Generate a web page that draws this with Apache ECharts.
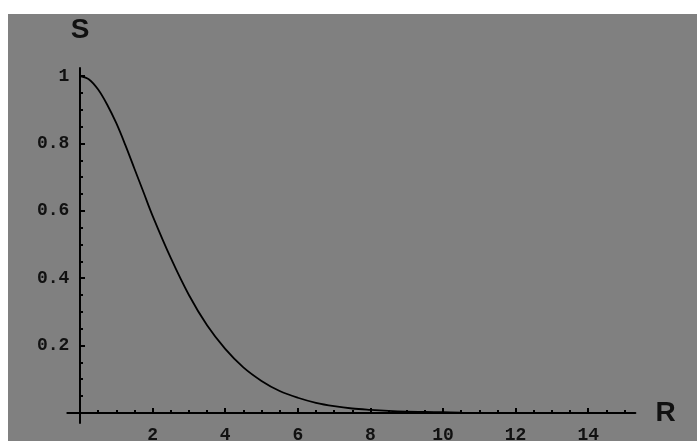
<!DOCTYPE html>
<html>
<head>
<meta charset="utf-8">
<script src="https://cdn.jsdelivr.net/npm/echarts@6/dist/echarts.min.js"></script>
<style>
html,body{margin:0;padding:0;background:#fff;}
#c{width:697px;height:441px;}
</style>
</head>
<body>
<div id="c"></div>
<script>
// Data
const R = [0, 0.25, 0.5, 0.75, 1, 1.25, 1.5, 1.75, 2, 2.5, 3, 3.5, 4, 4.5, 5, 5.5, 6, 6.5, 7, 7.5, 8, 8.5, 9, 9.5, 10, 10.5];
const S = [1, 0.99, 0.96, 0.915, 0.86, 0.795, 0.725, 0.655, 0.585, 0.46, 0.35, 0.26, 0.19, 0.135, 0.095, 0.065, 0.045, 0.03, 0.02, 0.013, 0.009, 0.006, 0.004, 0.003, 0.002, 0.001];

// Tick labels and tick positions
const xTickLabels = [2, 4, 6, 8, 10, 12, 14];
const xMinorTicks = [0.5, 1, 1.5, 2.5, 3, 3.5, 4.5, 5, 5.5, 6.5, 7, 7.5, 8.5, 9, 9.5, 10.5, 11, 11.5, 12.5, 13, 13.5, 14.5, 15];
const yTickLabels = [0.2, 0.4, 0.6, 0.8, 1];
const yMinorTicks = [0.05, 0.1, 0.15, 0.25, 0.3, 0.35, 0.45, 0.5, 0.55, 0.65, 0.7, 0.75, 0.85, 0.9, 0.95];

const chart = echarts.init(document.getElementById('c'), null, {renderer: 'canvas'});

const labelFont = {color: '#111', fontFamily: 'Liberation Mono', fontSize: 18, fontWeight: 'bold'};
const XMIN = -0.35, XMAX = 15.3, YMIN = -0.03, YMAX = 1.024;

chart.setOption({
  animation: false,
  backgroundColor: '#ffffff',
  graphic: [{
    type: 'rect', z: -100, silent: true,
    shape: {x: 8, y: 14, width: 689, height: 427},
    style: {fill: '#808080'}
  }],
  grid: {left: 67.3, right: 61.6, top: 68, bottom: 18, outerBoundsMode: 'none', containLabel: false},
  xAxis: [{
    type: 'value', min: XMIN, max: XMAX, position: 'bottom',
    name: 'R', nameLocation: 'end', nameGap: 20,
    nameTextStyle: {color: '#111', fontFamily: 'Liberation Sans', fontWeight: 'bold', fontSize: 28, padding: [0, 0, 6, 0]},
    axisLine: {show: true, onZero: true, onZeroAxisIndex: 0, lineStyle: {color: '#000', width: 2}},
    axisTick: {show: true, inside: true, length: 5, customValues: xTickLabels, lineStyle: {color: '#000', width: 2}},
    axisLabel: Object.assign({show: true, margin: 3, customValues: xTickLabels}, labelFont),
    splitLine: {show: false}
  }, {
    type: 'value', min: XMIN, max: XMAX, position: 'top',
    axisLine: {show: false, onZero: true, onZeroAxisIndex: 0},
    axisTick: {show: true, inside: false, length: 3, customValues: xMinorTicks, lineStyle: {color: '#000', width: 2}},
    axisLabel: {show: false},
    splitLine: {show: false}
  }],
  yAxis: [{
    type: 'value', min: YMIN, max: YMAX, position: 'left',
    name: 'S', nameLocation: 'end', nameGap: 24,
    nameTextStyle: {color: '#111', fontFamily: 'Liberation Sans', fontWeight: 'bold', fontSize: 28, align: 'center'},
    axisLine: {show: true, onZero: true, onZeroAxisIndex: 0, lineStyle: {color: '#000', width: 2}},
    axisTick: {show: true, inside: true, length: 5, customValues: yTickLabels, lineStyle: {color: '#000', width: 2}},
    axisLabel: Object.assign({show: true, margin: -2, customValues: yTickLabels,
      formatter: v => (v === 1 ? '1' : v.toFixed(1))}, labelFont),
    splitLine: {show: false}
  }, {
    type: 'value', min: YMIN, max: YMAX, position: 'right',
    axisLine: {show: false, onZero: true, onZeroAxisIndex: 0},
    axisTick: {show: true, inside: false, length: 3, customValues: yMinorTicks, lineStyle: {color: '#000', width: 2}},
    axisLabel: {show: false},
    splitLine: {show: false}
  }],
  series: [{
    type: 'line',
    xAxisIndex: 0, yAxisIndex: 0,
    data: R.map((r, i) => [r, S[i]]),
    showSymbol: false,
    smooth: 0.35,
    lineStyle: {color: '#000', width: 1.8},
    z: 5
  }]
});
</script>
</body>
</html>
